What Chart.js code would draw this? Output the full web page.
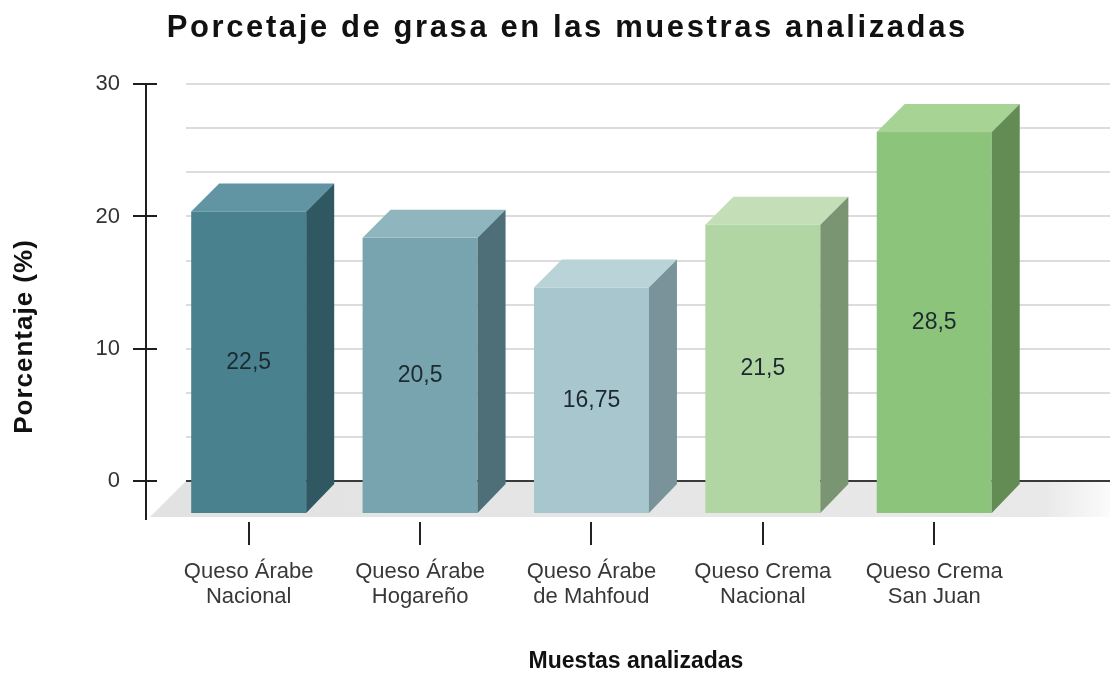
<!DOCTYPE html>
<html>
<head>
<meta charset="utf-8">
<script src="https://cdn.jsdelivr.net/npm/chart.js@4.4.1/dist/chart.umd.min.js"></script>
<style>
body{margin:0;background:#fff}
canvas{display:block}
</style>
</head>
<body>
<canvas id="grafico" width="1110" height="677"></canvas>
<script>
"use strict";

const categorias = [
	["Queso Árabe", "Nacional"],
	["Queso Árabe", "Hogareño"],
	["Queso Árabe", "de Mahfoud"],
	["Queso Crema", "Nacional"],
	["Queso Crema", "San Juan"]
];
const grasa = [22.5, 20.5, 16.75, 21.5, 28.5];
const ticksY = [0, 10, 20, 30];

const titulo = "Porcetaje de grasa en las muestras analizadas";
const tituloY = "Porcentaje (%)";
const tituloX = "Muestas analizadas";

// colores de cada barra: frente, tapa, lado
const colores = [
	["#4a818f", "#6195a3", "#2f5862"],
	["#77a4af", "#8fb6bf", "#4f6f78"],
	["#a8c6cd", "#bad3d9", "#7a939a"],
	["#b2d5a4", "#c4dfb8", "#7a9571"],
	["#8dc47b", "#a7d394", "#628c54"]
];
const FONT = "'Liberation Sans', Arial, sans-serif";
const DX = 28, DY = 28; // profundidad 3d

function poligono(ctx, puntos) {
	ctx.beginPath();
	ctx.moveTo(puntos[0][0], puntos[0][1]);
	for (let i = 1; i < puntos.length; i++) ctx.lineTo(puntos[i][0], puntos[i][1]);
	ctx.closePath();
	ctx.fill();
}

function linea(ctx, x1, y1, x2, y2) {
	ctx.beginPath();
	ctx.moveTo(x1, y1);
	ctx.lineTo(x2, y2);
	ctx.stroke();
}

// texto centrado con espacio entre letras
function textoEspaciado(ctx, txt, cx, y, esp) {
	const chars = Array.from(txt);
	const anchos = chars.map(c => ctx.measureText(c).width);
	const total = anchos.reduce((a, b) => a + b, 0) + esp * (chars.length - 1);
	let x = cx - total / 2;
	ctx.textAlign = "left";
	chars.forEach((c, i) => {
		ctx.fillText(c, x, y);
		x += anchos[i] + esp;
	});
}

const barras3d = {
	id: "barras3d",
	beforeDatasetsDraw(chart) {
		const ctx = chart.ctx;
		const a = chart.chartArea;
		const y = chart.scales.y;
		const y0 = y.getPixelForValue(0);
		const izq = a.left - 5, der = chart.width;
		ctx.save();
		// lineas de la pared
		ctx.strokeStyle = "#dcdcdc";
		ctx.lineWidth = 2;
		for (const t of y.ticks) {
			if (t.value <= 0) continue;
			const py = Math.round(y.getPixelForValue(t.value));
			linea(ctx, izq, py, der, py);
		}
		// piso
		const piso = ctx.createLinearGradient(izq, 0, der, 0);
		piso.addColorStop(0, "#e2e2e2");
		piso.addColorStop(0.93, "#e9e9e9");
		piso.addColorStop(1, "#fbfbfb");
		ctx.fillStyle = piso;
		poligono(ctx, [[izq, y0], [der, y0], [der, y0 + 36], [izq - 36, y0 + 36]]);
		// linea del cero
		ctx.strokeStyle = "#3a3a3a";
		linea(ctx, izq, Math.round(y0), der, Math.round(y0));
		// eje y
		const ex = a.left - 45;
		ctx.strokeStyle = "#1e1e1e";
		linea(ctx, ex, y.getPixelForValue(ticksY[ticksY.length - 1]) - 1, ex, y0 + 39);
		for (const v of ticksY) {
			const py = Math.round(y.getPixelForValue(v));
			linea(ctx, ex - 13, py, ex + 11, py);
		}
		ctx.restore();
	},
	afterDatasetsDraw(chart) {
		const ctx = chart.ctx;
		const y0 = chart.scales.y.getPixelForValue(0);
		const meta = chart.getDatasetMeta(0);
		ctx.save();
		meta.data.forEach((bar, i) => {
			const w = bar.width;
			const xl = bar.x - w / 2, xr = bar.x + w / 2;
			const top = bar.y, base = bar.base;
			const fl = xl - DX, fr = xr - DX, ft = top + DY, fb = base + DY + 4;
			// frente
			ctx.fillStyle = colores[i][0];
			ctx.fillRect(fl, ft, w, fb - ft);
			// tapa
			ctx.fillStyle = colores[i][1];
			poligono(ctx, [[fl, ft], [xl, top], [xr, top], [fr, ft]]);
			// lado
			ctx.fillStyle = colores[i][2];
			poligono(ctx, [[fr, ft], [xr, top], [xr, base + 3], [fr, fb]]);
			// valor
			ctx.fillStyle = "#1c2a30";
			ctx.font = "23px " + FONT;
			ctx.textAlign = "center";
			ctx.textBaseline = "middle";
			ctx.fillText(String(grasa[i]).replace(".", ","), bar.x - DX, (ft + fb) / 2);
			// marca del eje x
			ctx.strokeStyle = "#222";
			ctx.lineWidth = 2;
			const mx = Math.round(bar.x - DX);
			linea(ctx, mx, y0 + 41, mx, y0 + 64);
		});
		ctx.restore();
	},
	afterDraw(chart) {
		const ctx = chart.ctx;
		ctx.save();
		ctx.fillStyle = "#111";
		ctx.textBaseline = "alphabetic";
		// titulo
		ctx.font = "bold 31px " + FONT;
		textoEspaciado(ctx, titulo, 566, 37, 2.6);
		// titulo eje x
		ctx.font = "bold 23px " + FONT;
		textoEspaciado(ctx, tituloX, 636, 668, 0);
		// titulo eje y
		ctx.translate(32, 337);
		ctx.rotate(-Math.PI / 2);
		ctx.font = "bold 26px " + FONT;
		textoEspaciado(ctx, tituloY, 0, 0, 1);
		ctx.restore();
	}
};

const chart = new Chart(document.getElementById("grafico"), {
	type: "bar",
	data: {
		labels: categorias,
		datasets: [{
			label: "Grasa",
			data: grasa,
			backgroundColor: "rgba(0,0,0,0)",
			borderWidth: 0,
			barPercentage: 0.671,
			categoryPercentage: 1
		}]
	},
	options: {
		responsive: false,
		animation: false,
		devicePixelRatio: 1,
		layout: { padding: { left: 0, right: 13, top: 81, bottom: 0 } },
		plugins: {
			legend: { display: false },
			title: { display: false },
			tooltip: { enabled: false }
		},
		scales: {
			x: {
				grid: { display: false, drawTicks: false },
				border: { display: false },
				ticks: {
					padding: 78,
					labelOffset: -DX,
					maxRotation: 0,
					autoSkip: false,
					color: "#383838",
					font: { family: FONT, size: 22, lineHeight: 1.15 }
				},
				afterFit(scale) { scale.height = 196; }
			},
			y: {
				min: 0,
				max: 30,
				grid: { display: false, drawTicks: false },
				border: { display: false },
				ticks: {
					stepSize: 10 / 3,
					padding: 71,
					color: "#333",
					font: { family: FONT, size: 22 },
					callback: function (v) {
						const t = ticksY.find(k => Math.abs(k - v) < 1e-6);
						return t === undefined ? "" : String(t);
					}
				},
				afterFit(scale) { scale.width = 191; }
			}
		}
	},
	plugins: [barras3d]
});
</script>
</body>
</html>
